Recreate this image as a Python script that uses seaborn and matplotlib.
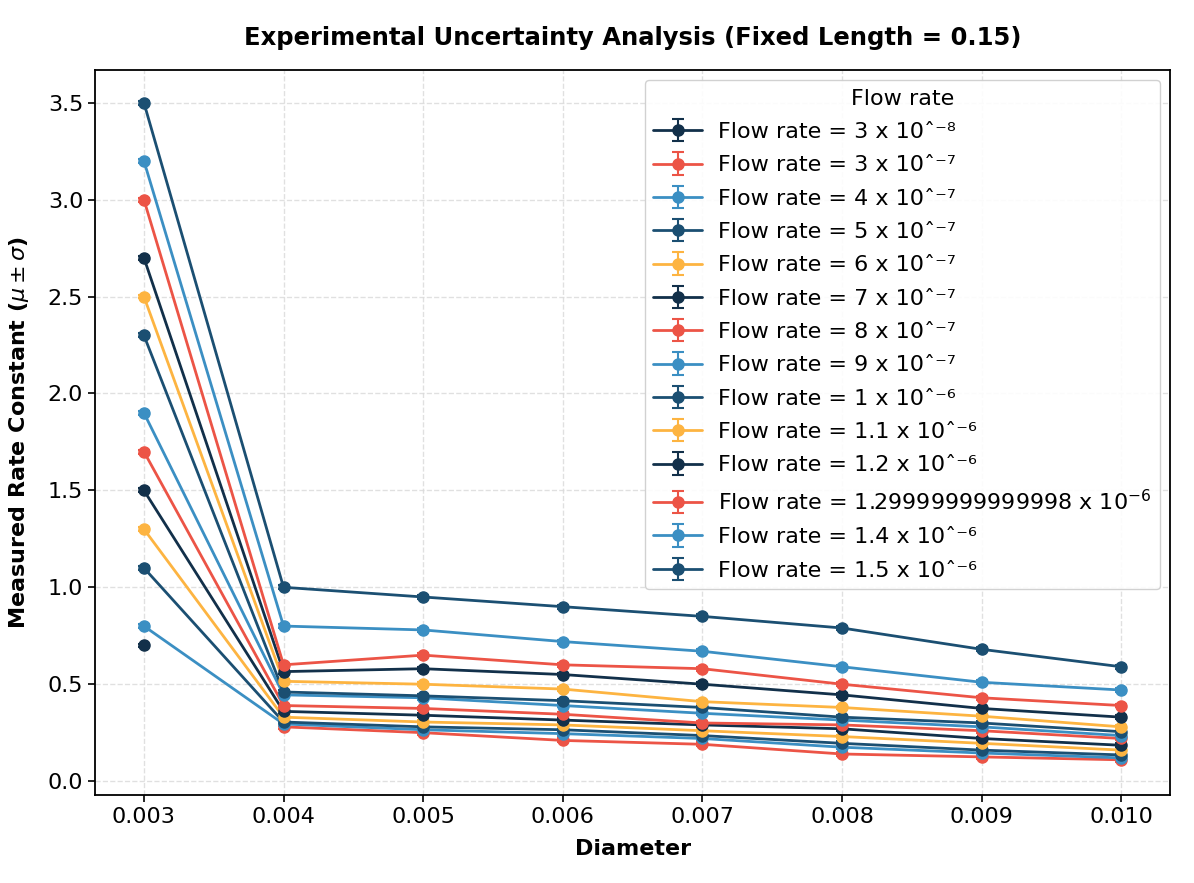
import numpy as np
import matplotlib
matplotlib.use('Agg')
import matplotlib.pyplot as plt
import seaborn as sns

# Diameters (x axis)
diameters = [0.003, 0.004, 0.005, 0.006, 0.007, 0.008, 0.009, 0.010]

# Flow rate labels (mantissa, exponent) as shown in the legend
flow_mantissa = ['3', '3', '4', '5', '6', '7', '8', '9', '1', '1.1', '1.2', '1.29999999999998', '1.4', '1.5']
flow_exponent = ['-8', '-7', '-7', '-7', '-7', '-7', '-7', '-7', '-6', '-6', '-6', '-6', '-6', '-6']

nan = np.nan
# Measured rate constant (mean) per flow rate, one value per diameter
rate_3e8 = [0.70, nan, nan, nan, nan, nan, nan, nan]
rate_3e7 = [nan, 0.28, 0.25, 0.21, 0.19, 0.14, 0.125, 0.11]
rate_4e7 = [0.80, 0.295, 0.265, 0.245, 0.22, 0.175, 0.145, 0.12]
rate_5e7 = [1.10, 0.305, 0.28, 0.265, 0.235, 0.195, 0.16, 0.135]
rate_6e7 = [1.30, 0.33, 0.305, 0.29, 0.26, 0.23, 0.195, 0.16]
rate_7e7 = [1.50, 0.36, 0.34, 0.315, 0.29, 0.27, 0.22, 0.185]
rate_8e7 = [1.70, 0.39, 0.375, 0.345, 0.30, 0.29, 0.26, 0.22]
rate_9e7 = [1.90, 0.445, 0.43, 0.39, 0.35, 0.315, 0.28, 0.235]
rate_1e6 = [2.30, 0.46, 0.44, 0.415, 0.38, 0.33, 0.30, 0.255]
rate_11e6 = [2.50, 0.515, 0.50, 0.475, 0.41, 0.38, 0.335, 0.28]
rate_12e6 = [2.70, 0.565, 0.58, 0.55, 0.50, 0.445, 0.375, 0.33]
rate_13e6 = [3.00, 0.60, 0.65, 0.60, 0.58, 0.50, 0.43, 0.39]
rate_14e6 = [3.20, 0.80, 0.78, 0.72, 0.67, 0.59, 0.51, 0.47]
rate_15e6 = [3.50, 1.00, 0.95, 0.90, 0.85, 0.79, 0.68, 0.59]

all_rates = [rate_3e8, rate_3e7, rate_4e7, rate_5e7, rate_6e7, rate_7e7, rate_8e7,
             rate_9e7, rate_1e6, rate_11e6, rate_12e6, rate_13e6, rate_14e6, rate_15e6]

# Standard deviation per flow rate (tiny, barely visible caps)
sigma = [0.01, 0.01, 0.01, 0.01, 0.01, 0.01, 0.01, 0.01, 0.01, 0.01, 0.01, 0.01, 0.01, 0.01]

sns.set_theme(style='ticks')
plt.rcParams['font.family'] = ['DejaVu Sans']
plt.rcParams['text.color'] = 'black'
plt.rcParams['axes.labelcolor'] = 'black'
plt.rcParams['xtick.color'] = 'black'
plt.rcParams['ytick.color'] = 'black'
palette = ['#12304a', '#ec5446', '#3b8fc3', '#1b4f72', '#fdb441']

sup = {'-': '⁻', '6': '⁶', '7': '⁷', '8': '⁸'}

fig, ax = plt.subplots(figsize=(11.94, 8.83), dpi=100)
fig.subplots_adjust(left=0.0796, right=0.98, top=0.921, bottom=0.1)

for i, rates in enumerate(all_rates):
    if flow_mantissa[i].startswith('1.2999'):
        label = f'Flow rate = {flow_mantissa[i]} x 10$^{{{flow_exponent[i]}}}$'
    else:
        label = f'Flow rate = {flow_mantissa[i]} x 10ˆ' + ''.join(sup[c] for c in flow_exponent[i])
    ax.errorbar(diameters, rates, yerr=sigma[i], color=palette[i % 5], marker='o',
                markersize=8, linewidth=2, capsize=4.5, capthick=1.5, elinewidth=1.5,
                label=label)

ax.set_title('Experimental Uncertainty Analysis (Fixed Length = 0.15)', fontsize=17.5,
             fontweight='bold', pad=18)
ax.set_xlabel('Diameter', fontsize=16, fontweight='bold', labelpad=9)
ax.set_ylabel('Measured Rate Constant ($\\mu \\pm \\sigma$)', fontsize=16, fontweight='bold',
              labelpad=12)
ax.set_xticks(diameters)
ax.set_xticklabels([f'{d:.3f}' for d in diameters])
ax.set_yticks([0.0, 0.5, 1.0, 1.5, 2.0, 2.5, 3.0, 3.5])
ax.set_ylim(-0.07, 3.67)
ax.tick_params(labelsize=16, length=5, width=1.2, color='black')
ax.grid(True, linestyle='--', color='#d9d9d9', linewidth=1, alpha=0.8)
for sp in ax.spines.values():
    sp.set_color('black')
    sp.set_linewidth(1.3)

leg = ax.legend(title='Flow rate', loc='upper right', fontsize=16, title_fontsize=16,
                labelspacing=0.6, handlelength=2.2, handletextpad=0.7, borderaxespad=0.45,
                framealpha=0.9)

fig.savefig('out.png', dpi=100)
